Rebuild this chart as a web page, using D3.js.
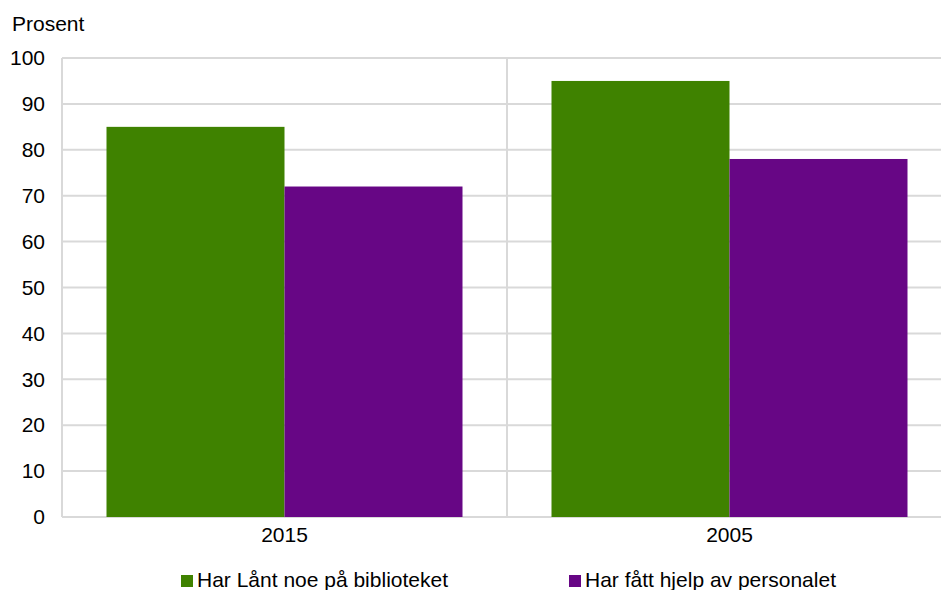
<!DOCTYPE html>
<html>
<head>
<meta charset="utf-8">
<script src="https://cdn.jsdelivr.net/npm/d3@7"></script>
<style>
  body { margin: 0; background: #fff; }
  svg { font-family: "Liberation Sans", Arial, sans-serif; }
</style>
</head>
<body>
<svg id="chart"></svg>
<script>
const years = ["2015", "2005"];
const seriesNames = ["Har Lånt noe på biblioteket", "Har fått hjelp av personalet"];
const laant = [85, 95];
const hjelp = [72, 78];
const yTicks = [0, 10, 20, 30, 40, 50, 60, 70, 80, 90, 100];
const colors = ["#3f8200", "#670685"];

const width = 941, height = 590;
const margin = {top: 58, right: -11, bottom: 73, left: 62};
const innerW = width - margin.left - margin.right;
const innerH = height - margin.top - margin.bottom;
const fontSize = 21;

const svg = d3.select("#chart").attr("width", width).attr("height", height);
const g = svg.append("g").attr("transform", "translate(" + margin.left + "," + margin.top + ")");

const x = d3.scaleBand().domain(years).range([0, innerW]);
const y = d3.scaleLinear().domain([0, 100]).range([innerH, 0]);
const xs = d3.scaleBand().domain(seriesNames).range([0, x.bandwidth()]).paddingOuter(0.25);

// gridlines
g.selectAll(".grid").data(yTicks).enter().append("line")
  .attr("x1", 0).attr("x2", innerW)
  .attr("y1", d => y(d)).attr("y2", d => y(d))
  .attr("stroke", "#d9d9d9").attr("stroke-width", 2);

// category separators
g.selectAll(".sep").data(years.slice(1)).enter().append("line")
  .attr("x1", d => x(d)).attr("x2", d => x(d))
  .attr("y1", 0).attr("y2", innerH)
  .attr("stroke", "#d9d9d9").attr("stroke-width", 2);

// left axis line
g.append("line").attr("x1", 0).attr("x2", 0).attr("y1", 0).attr("y2", innerH)
  .attr("stroke", "#d9d9d9").attr("stroke-width", 2);

// bars
const data = years.map((yr, i) => ({year: yr, values: [laant[i], hjelp[i]]}));
const groups = g.selectAll(".grp").data(data).enter().append("g")
  .attr("transform", d => "translate(" + x(d.year) + ",0)");
groups.selectAll("rect").data(d => d.values.map((v, j) => ({name: seriesNames[j], v: v, j: j})))
  .enter().append("rect")
  .attr("x", d => xs(d.name))
  .attr("width", xs.bandwidth())
  .attr("y", d => y(d.v))
  .attr("height", d => innerH - y(d.v))
  .attr("fill", d => colors[d.j]);

// y axis labels
const yAxis = g.append("g").call(d3.axisLeft(y).tickValues(yTicks).tickSize(0).tickPadding(17));
yAxis.select(".domain").remove();
yAxis.selectAll("text").attr("font-size", fontSize).attr("fill", "#000")
  .attr("font-family", "Liberation Sans, Arial, sans-serif");

// x axis labels
const xAxis = g.append("g").attr("transform", "translate(0," + innerH + ")")
  .call(d3.axisBottom(x).tickSize(0).tickPadding(10));
xAxis.select(".domain").remove();
xAxis.selectAll("text").attr("font-size", fontSize).attr("fill", "#000")
  .attr("font-family", "Liberation Sans, Arial, sans-serif");

// "Prosent" title
svg.append("text").attr("x", 12).attr("y", 31).attr("font-size", fontSize).text("Prosent");

// legend
const legendX = [181, 569];
const legend = svg.selectAll(".leg").data(seriesNames).enter().append("g")
  .attr("transform", (d, i) => "translate(" + legendX[i] + ",575)");
legend.append("rect").attr("width", 12).attr("height", 12).attr("fill", (d, i) => colors[i]);
legend.append("text").attr("x", 16).attr("y", 12).attr("font-size", fontSize).text(d => d);
</script>
</body>
</html>
